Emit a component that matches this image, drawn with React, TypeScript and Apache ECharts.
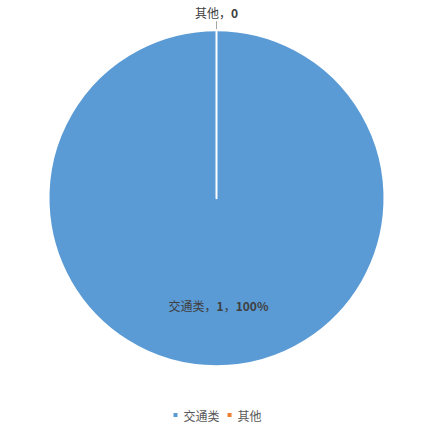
import React, { useEffect, useRef } from 'react';
import * as echarts from 'echarts';

const categories = ['交通类', '其他'];
const values = [1, 0];
const percents = ['100%', ''];
const colors = ['#5b9bd5', '#ed7d31'];

const App: React.FC = () => {
    const chartRef = useRef<HTMLDivElement>(null);

    useEffect(() => {
        document.body.style.margin = '0';
        if (!chartRef.current) return;
        const myChart = echarts.init(chartRef.current, undefined, { renderer: 'svg' });

        const fmt = (p: any) => {
            const pct = percents[p.dataIndex];
            return pct
                ? `{n|${p.name}，}{b|${p.value}}{n|，}{b|${pct}}`
                : `{n|${p.name}，}{b|${p.value}}`;
        };

        const option = {
            animation: false,
            color: colors,
            textStyle: { fontFamily: '"Noto Sans CJK SC", sans-serif' },
            legend: {
                bottom: 2,
                left: 'center',
                icon: 'rect',
                itemWidth: 6,
                itemHeight: 6,
                itemGap: 6,
                textStyle: { color: '#595959', fontSize: 12 },
                data: categories
            },
            series: [
                {
                    type: 'pie',
                    center: ['50%', '46.3%'],
                    radius: 168,
                    startAngle: 90,
                    avoidLabelOverlap: false,
                    itemStyle: { borderColor: '#fff', borderWidth: 2 },
                    label: {
                        formatter: fmt,
                        distanceToLabelLine: 0,
                        rich: {
                            n: { color: '#404040', fontSize: 12 },
                            b: { color: '#404040', fontSize: 12, fontWeight: 'bold' }
                        }
                    },
                    labelLine: { length: 9, length2: 0, lineStyle: { color: '#a6a6a6' } },
                    labelLayout: (p: any) =>
                        p.dataIndex === 1 ? { align: 'center', verticalAlign: 'bottom', dy: -3 } : {},
                    data: categories.map((name, i) => ({
                        name,
                        value: values[i],
                        label: i === 0 ? { position: 'inside', offset: [2, 20] } : { position: 'outside' }
                    }))
                }
            ]
        };

        myChart.setOption(option);
        return () => {
            myChart.dispose();
        };
    }, []);

    return <div ref={chartRef} style={{ width: '433px', height: '428px' }} />;
};

export default App;
